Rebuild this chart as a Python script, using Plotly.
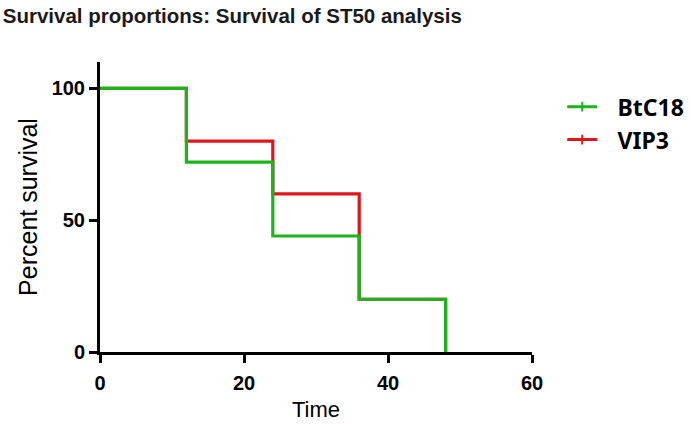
import plotly.graph_objects as go

series_names = ["BtC18", "VIP3"]
time_points = [0, 12, 24, 36, 48]
btc18_survival = [100, 72, 44, 20, 0]
vip3_survival = [100, 80, 60, 20, 0]
series_colors = ["#1DB31D", "#E0161B"]
x_ticks = [0, 20, 40, 60]
y_ticks = [0, 50, 100]

fig = go.Figure()

# VIP3 drawn first (underneath), BtC18 on top
for name, vals, col in [("VIP3", vip3_survival, series_colors[1]),
                        ("BtC18", btc18_survival, series_colors[0])]:
    fig.add_trace(go.Scatter(
        x=time_points, y=vals, mode="lines", name=name,
        line=dict(color=col, width=3.2, shape="hv"),
        showlegend=False, hoverinfo="skip"))

# legend-only entries with censor tick
for name, col, rank in [("BtC18", series_colors[0], 1), ("VIP3", series_colors[1], 2)]:
    fig.add_trace(go.Scatter(
        x=[None], y=[None], mode="lines+markers", name="\u2002\u2009" + name,
        line=dict(color=col, width=3),
        marker=dict(symbol="line-ns", size=7, line=dict(color=col, width=2)),
        legendrank=rank))

tick_font = dict(family="Liberation Sans, Arial", size=20, color="black", weight="bold")

fig.update_layout(
    width=691, height=424,
    margin=dict(l=100, r=159, t=62, b=72, autoexpand=False),
    paper_bgcolor="white", plot_bgcolor="white",
    title=dict(text="<b>Survival proportions: Survival of ST50 analysis</b>",
               x=0.004, xanchor="left", y=0.962, yanchor="middle",
               yref="container", automargin=False,
               font=dict(family="Liberation Sans, Arial", size=20.5, color="#1a1a1a")),
    legend=dict(x=1.07, y=0.92, xanchor="left", yanchor="top",
                font=dict(family="Noto Sans", size=23, color="black", weight="bold"),
                itemwidth=30, tracegroupgap=0, bgcolor="rgba(0,0,0,0)"),
    xaxis=dict(range=[0, 60], tickvals=x_ticks, showgrid=False, zeroline=False,
               showline=True, linecolor="black", linewidth=3, automargin=False,
               ticks="outside", ticklen=8, tickwidth=3, tickcolor="black",
               ticklabelstandoff=3,
               tickfont=tick_font,
               title=dict(text="Time", font=dict(family="Liberation Sans, Arial", size=22, color="black"),
                          standoff=9)),
    yaxis=dict(range=[0, 110], tickvals=y_ticks, showgrid=False, zeroline=False,
               showline=True, linecolor="black", linewidth=3, automargin=False,
               ticks="outside", ticklen=8, tickwidth=3, tickcolor="black",
               tickfont=tick_font,
               title=dict(text="Percent survival", font=dict(family="Liberation Sans, Arial", size=25, color="black"),
                          standoff=7)),
)

fig.write_html("out.html", config={"displayModeBar": False},
               post_script="document.body.style.margin='0';")
